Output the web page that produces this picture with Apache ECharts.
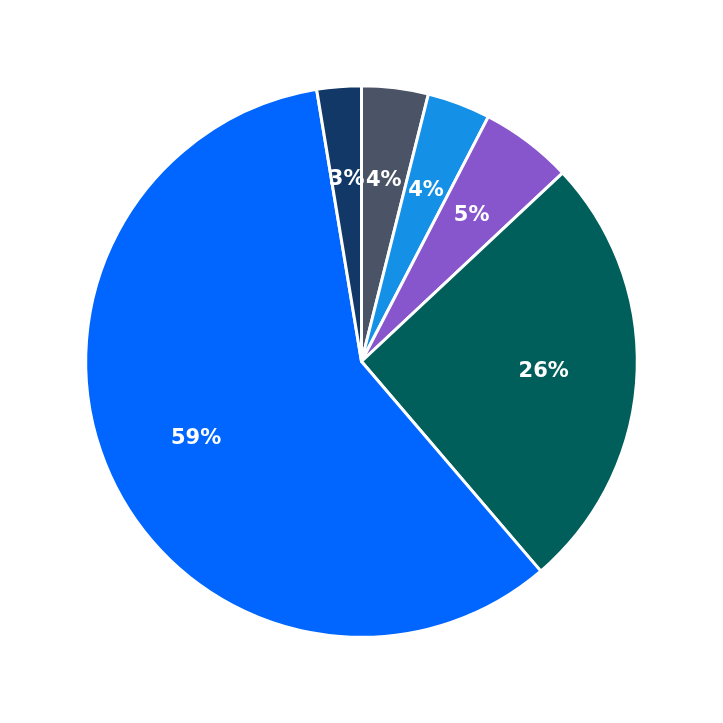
<!DOCTYPE html>
<html><head><meta charset="utf-8">
<script src="https://cdn.jsdelivr.net/npm/echarts@6/dist/echarts.min.js"></script>
<style>html,body{margin:0;padding:0;background:#fff}#c{width:723px;height:723px}</style>
</head><body><div id="c"></div>
<script>
const categories = ['A','B','C','D','E','F'];
const values = [3.9, 3.7, 5.4, 25.7, 58.6, 2.6];
const colors = ['#4a5466','#1490e6','#8756cc','#005f5a','#0066ff','#123868'];
const data = categories.map((n,i)=>({name:n,value:values[i],itemStyle:{color:colors[i]}}));
const total = values.reduce((a,b)=>a+b,0);
const chart = echarts.init(document.getElementById('c'));
chart.setOption({
  animation:false,
  series:[
    {type:'pie',center:['50%','50%'],radius:[0,'76.3%'],startAngle:90,clockwise:true,
     data:data,label:{show:false},labelLine:{show:false},
     itemStyle:{borderColor:'#fff',borderWidth:3}},
    {type:'pie',center:['50%','50%'],radius:['23%','76.3%'],startAngle:90,clockwise:true,z:5,silent:true,
     data:categories.map((n,i)=>({name:n,value:values[i],itemStyle:{color:'transparent'}})),
     itemStyle:{borderWidth:0},labelLine:{show:false},
     label:{show:true,position:'inside',color:'#fff',fontWeight:'bold',fontSize:21,fontFamily:'DejaVu Sans',
       formatter:p=>Math.round(p.value/total*100)+'%'}}
  ]
});
</script></body></html>
